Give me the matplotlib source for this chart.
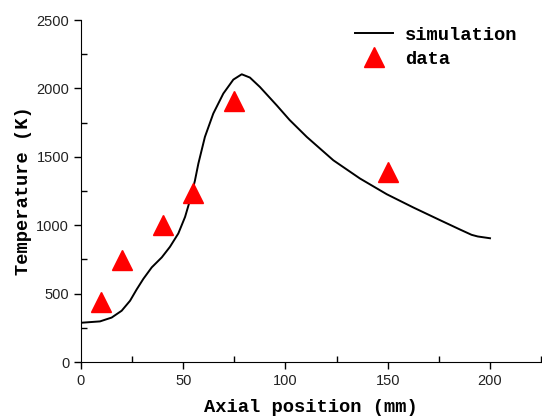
import numpy as np
import matplotlib
matplotlib.use("Agg")
import matplotlib.pyplot as plt
from matplotlib.ticker import MultipleLocator

# simulation curve
sim_x = [0, 9.3, 15, 19.9, 24, 27.2, 30.5, 34.6, 39.5, 43.5, 47.6, 50.9, 53.3,
         55.7, 57.4, 60.6, 64.7, 69.6, 74.5, 78.6, 82.6, 87.5, 95.7, 102, 110.4,
         123.4, 136.4, 149.5, 162.5, 175.6, 185.3, 191, 194, 200]
sim_T = [287, 297, 325, 375, 448, 530, 608, 692, 765, 842, 940, 1061, 1183,
         1325, 1451, 1646, 1817, 1963, 2065, 2104, 2080, 2011, 1877, 1770, 1646,
         1475, 1342, 1227, 1130, 1037, 969, 930, 918, 905]

# measured data
data_x = [10, 20, 40, 55, 75, 150]
data_T = [440, 745, 1005, 1237, 1909, 1388]

fig = plt.figure(figsize=(5.42, 4.19), dpi=100)
ax = fig.add_axes([0.1494, 0.136, 0.849, 0.816])

ax.plot(sim_x, sim_T, color="black", lw=1.4, label="simulation")
ax.plot(data_x, data_T, "^", color="red", markersize=15, lw=0, label="data")

ax.set_xlim(0, 225)
ax.set_ylim(0, 2500)
ax.xaxis.set_major_locator(MultipleLocator(50))
ax.xaxis.set_minor_locator(MultipleLocator(25))
ax.yaxis.set_major_locator(MultipleLocator(500))
ax.yaxis.set_minor_locator(MultipleLocator(250))
ax.spines["top"].set_visible(False)
ax.spines["right"].set_visible(False)
ax.tick_params(which="major", direction="out", length=5, width=1,
               labelsize=10.5, labelcolor="#222222")
ax.tick_params(which="minor", direction="in", length=4, width=1)
for lab in ax.get_xticklabels() + ax.get_yticklabels():
    lab.set_family("Liberation Sans")

lab_font = {"family": "Liberation Mono", "size": 13.5, "weight": "bold"}
ax.set_xlabel("Axial position (mm)", fontdict=lab_font, labelpad=8)
ax.set_ylabel("Temperature (K)", fontdict=lab_font, labelpad=3)

leg = ax.legend(loc="upper right", frameon=False,
                prop={"family": "Liberation Mono", "size": 13.5, "weight": "bold"},
                handlelength=2.0, handletextpad=0.65, labelspacing=0.35,
                bbox_to_anchor=(0.985, 1.03))

fig.savefig("out.png", dpi=100)
